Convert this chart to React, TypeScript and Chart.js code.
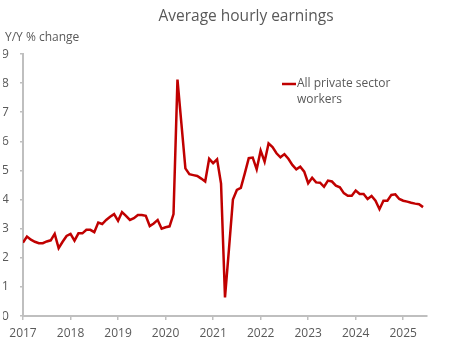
import React, { useEffect, useRef } from "react";
import { Chart, registerables } from "chart.js";

Chart.register(...registerables);

// ---- Data (monthly, Jan 2017 .. Jun 2025) ----
const startYear = 2017;
const yearTicks = [2017, 2018, 2019, 2020, 2021, 2022, 2023, 2024, 2025];
const yTicks = [0, 1, 2, 3, 4, 5, 6, 7, 8, 9];
const titleText = "Average hourly earnings";
const yAxisCaption = "Y/Y % change";
const seriesNameLines = ["All private sector", "workers"];

const earnings2017 = [2.52, 2.73, 2.62, 2.55, 2.5, 2.5, 2.56, 2.6, 2.82, 2.33, 2.55, 2.75];
const earnings2018 = [2.82, 2.59, 2.84, 2.84, 2.96, 2.96, 2.88, 3.21, 3.16, 3.3, 3.41, 3.5];
const earnings2019 = [3.27, 3.57, 3.44, 3.3, 3.36, 3.47, 3.47, 3.44, 3.09, 3.18, 3.3, 3.0];
const earnings2020 = [3.05, 3.08, 3.5, 8.12, 6.6, 5.07, 4.87, 4.84, 4.81, 4.72, 4.62, 5.4];
const earnings2021 = [5.25, 5.38, 4.55, 0.64, 2.3, 4.0, 4.33, 4.4, 4.9, 5.42, 5.44, 5.04];
const earnings2022 = [5.68, 5.3, 5.93, 5.8, 5.59, 5.45, 5.56, 5.4, 5.19, 5.04, 5.13, 4.96];
const earnings2023 = [4.56, 4.75, 4.59, 4.58, 4.44, 4.65, 4.62, 4.48, 4.42, 4.22, 4.13, 4.13];
const earnings2024 = [4.31, 4.19, 4.19, 4.02, 4.12, 3.96, 3.67, 3.96, 3.96, 4.16, 4.18, 4.02];
const earnings2025 = [3.96, 3.93, 3.89, 3.86, 3.84, 3.74];

const earnings = [
  ...earnings2017,
  ...earnings2018,
  ...earnings2019,
  ...earnings2020,
  ...earnings2021,
  ...earnings2022,
  ...earnings2023,
  ...earnings2024,
  ...earnings2025,
];

const LINE_COLOR = "#C00000";
const TEXT_COLOR = "#595959";
const AXIS_COLOR = "#BFBFBF";
const FONT = "'Open Sans', 'Noto Sans', sans-serif";

const overlayPlugin = {
  id: "overlay",
  afterDraw(chart: any) {
    const ctx = chart.ctx as CanvasRenderingContext2D;
    const area = chart.chartArea;
    ctx.save();
    ctx.fillStyle = TEXT_COLOR;
    ctx.textBaseline = "middle";

    ctx.font = `15.5px ${FONT}`;
    ctx.textAlign = "center";
    ctx.fillText(titleText, 246, 17);

    ctx.font = `12px ${FONT}`;
    ctx.textAlign = "left";
    ctx.fillText(yAxisCaption, 5, 38);

    // legend
    const lx = area.left + 259;
    const ly = 84;
    ctx.strokeStyle = LINE_COLOR;
    ctx.lineWidth = 2.5;
    ctx.beginPath();
    ctx.moveTo(lx, ly);
    ctx.lineTo(lx + 14, ly);
    ctx.stroke();
    seriesNameLines.forEach((t, i) => ctx.fillText(t, lx + 15, ly + i * 16));
    ctx.restore();
  },
};

export default function App() {
  const canvasRef = useRef<HTMLCanvasElement | null>(null);

  useEffect(() => {
    document.body.style.margin = "0";
    const canvas = canvasRef.current;
    if (!canvas) return;
    const points = earnings.map((v, i) => ({ x: i, y: v }));
    const chart = new Chart(canvas, {
      type: "line",
      data: {
        datasets: [
          {
            label: seriesNameLines.join(" "),
            data: points,
            borderColor: LINE_COLOR,
            borderWidth: 2.5,
            pointRadius: 0,
            tension: 0,
            fill: false,
          },
        ],
      },
      options: {
        responsive: false,
        animation: false,
        layout: { padding: { left: 3, top: 54, right: 28, bottom: 0 } },
        plugins: {
          legend: { display: false },
          title: { display: false },
          tooltip: { enabled: false },
        },
        scales: {
          x: {
            type: "linear",
            min: 0,
            max: 102,
            afterFit: (scale: any) => {
              scale.height = 47;
            },
            afterBuildTicks: (scale: any) => {
              scale.ticks = yearTicks.map((y) => ({ value: (y - startYear) * 12 }));
            },
            ticks: {
              autoSkip: false,
              maxRotation: 0,
              padding: 6,
              color: TEXT_COLOR,
              font: { family: FONT, size: 12 },
              callback: (v: any) => String(startYear + Math.round(Number(v) / 12)),
            },
            grid: {
              drawOnChartArea: false,
              drawTicks: true,
              tickLength: 4,
              color: AXIS_COLOR,
              lineWidth: 1.5,
            },
            border: { color: AXIS_COLOR, width: 2 },
          },
          y: {
            type: "linear",
            min: 0,
            max: 9,
            afterFit: (scale: any) => {
              scale.width = 20;
            },
            afterBuildTicks: (scale: any) => {
              scale.ticks = yTicks.map((v) => ({ value: v }));
            },
            ticks: {
              padding: 11,
              color: TEXT_COLOR,
              font: { family: FONT, size: 12.5 },
            },
            grid: {
              drawOnChartArea: false,
              drawTicks: true,
              tickLength: 3,
              color: AXIS_COLOR,
              lineWidth: 1.5,
            },
            border: { color: AXIS_COLOR, width: 2 },
          },
        },
      },
      plugins: [overlayPlugin],
    });
    return () => chart.destroy();
  }, []);

  return (
    <div style={{ width: 455, height: 363 }}>
      <canvas ref={canvasRef} width={455} height={363} style={{ display: "block" }} />
    </div>
  );
}
